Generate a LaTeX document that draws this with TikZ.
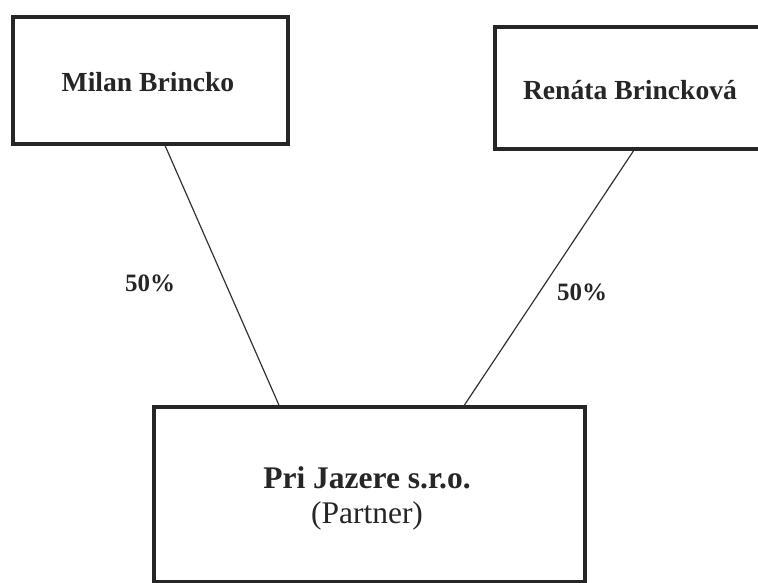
\documentclass[tikz,border=0pt]{standalone}
\usepackage{fontspec}
\setmainfont{Liberation Serif}
\usetikzlibrary{calc}
\tikzset{
  box/.style={draw=black!85, line width=3.6pt, fill=white, inner sep=0pt, anchor=north west},
  link/.style={draw=black!80, line width=1.2pt},
  pct/.style={font=\fontsize{25}{28}\selectfont\bfseries, text=black!85},
}
\begin{document}
\begin{tikzpicture}[x=1pt,y=-1pt]
\useasboundingbox (0,0) rectangle (758,583);
\clip (0,0) rectangle (758,583);
\fill[white] (0,0) rectangle (758,583);
\node[box, minimum width=275pt, minimum height=127pt] (m) at (11,15) {};
\node[font=\fontsize{27.6}{30}\selectfont\bfseries, text=black!85] (mt) at (148,82) {Milan Brincko};
\node[box, minimum width=280pt, minimum height=122pt] (r) at (493,25) {};
\node[font=\fontsize{27.6}{30}\selectfont\bfseries, text=black!85] (rt) at (630,90) {Renáta Brincková};
\node[box, minimum width=431pt, minimum height=175pt] (p) at (152,405) {};
\node[font=\fontsize{31.5}{34}\selectfont\bfseries, text=black!85] (pt) at (367,478) {Pri Jazere s.r.o.};
\node[font=\fontsize{31.5}{34}\selectfont, text=black!85] (pp) at (367,516) {(Partner)};
\draw[link] ($(m.south west)!0.553!(m.south east)$) -- ($(p.north west)!0.292!(p.north east)$);
\draw[link] ($(r.south west)!0.496!(r.south east)$) -- ($(p.north west)!0.719!(p.north east)$);
\node[pct] (l1) at (150,283) {50\%};
\node[pct] (l2) at (582,292) {50\%};
\end{tikzpicture}
\end{document}
